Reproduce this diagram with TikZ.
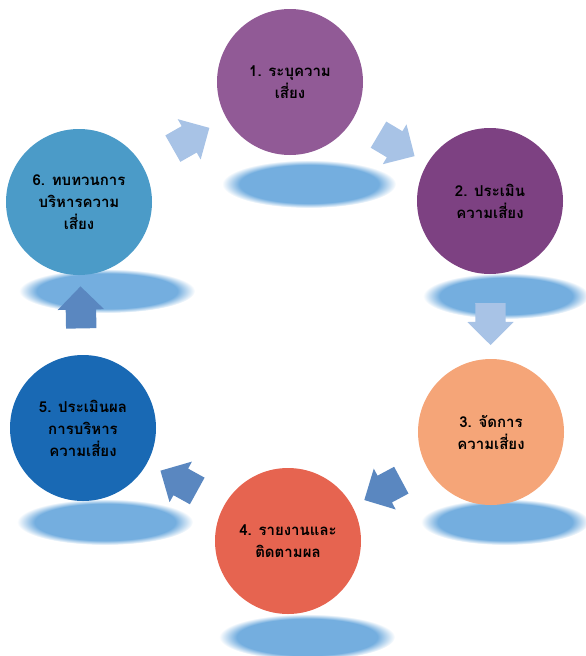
\documentclass[tikz,border=0pt]{standalone}
\usepackage{fontspec}
\newfontfamily\thaifont[Script=Thai]{Loma}
\usetikzlibrary{shapes.geometric,shapes.arrows}

\definecolor{stageone}{HTML}{915A96}
\definecolor{stagetwo}{HTML}{7D4182}
\definecolor{stagethree}{HTML}{F5A578}
\definecolor{stagefour}{HTML}{E66450}
\definecolor{stagefive}{HTML}{1969B4}
\definecolor{stagesix}{HTML}{4B9BC8}
\definecolor{blobblue}{HTML}{74AEDF}
\definecolor{arrowlight}{HTML}{A8C3E6}
\definecolor{arrowdark}{HTML}{5A87C0}
\pgfdeclareradialshading{blob}{\pgfpoint{0bp}{0bp}}{color(0bp)=(blobblue); color(20bp)=(blobblue); color(25bp)=(white); color(50bp)=(white)}

\begin{document}
\begin{tikzpicture}[x=1pt, y=-1pt,
                    stage node/.style={circle, minimum size=146pt, inner sep=0pt, align=center,
                                       font=\thaifont\bfseries\fontsize{15}{22}\selectfont},
                    shadow blob/.style={ellipse, shading=blob, inner sep=0pt},
                    cycle arrow/.style={single arrow, sloped, allow upside down, inner xsep=0pt,
                                        inner ysep=15pt, single arrow head extend=8pt, minimum height=42pt}]
  \useasboundingbox (0,0) rectangle (586,656);
  % shadows under the stages
  \node[shadow blob, minimum width=174pt, minimum height=48pt] (s1) at (309,184) {};
  \node[shadow blob, minimum width=166pt, minimum height=46pt] (s2) at (506,296) {};
  \node[shadow blob, minimum width=168pt, minimum height=46pt] (s3) at (505,522) {};
  \node[shadow blob, minimum width=176pt, minimum height=46pt] (s4) at (307,637) {};
  \node[shadow blob, minimum width=176pt, minimum height=46pt] (s5) at (105,522) {};
  \node[shadow blob, minimum width=176pt, minimum height=44pt] (s6) at (107,291) {};
  % stages
  \node[stage node, fill=stageone] (1) at (290,82) {1. ระบุความ\\เสี่ยง};
  \node[stage node, fill=stagetwo] (2) at (490,201) {2. ประเมิน\\ความเสี่ยง};
  \node[stage node, fill=stagethree] (3) at (491,432) {3. จัดการ\\ความเสี่ยง};
  \node[stage node, fill=stagefour] (4) at (288,541) {4. รายงานและ\\ติดตามผล};
  \node[stage node, fill=stagefive] (5) at (83,428) {5. ประเมินผล\\การบริหาร\\ความเสี่ยง};
  \node[stage node, fill=stagesix] (6) at (79,202) {6. ทบทวนการ\\บริหารความ\\เสี่ยง};
  % arrows of the cycle
  \path (6) -- node[cycle arrow, fill=arrowlight] (a61) {} (1);
  \path (1) -- node[cycle arrow, fill=arrowlight] (a12) {} (2);
  \path (2) -- node[cycle arrow, fill=arrowlight] (a23) {} (3);
  \path (3) -- node[cycle arrow, fill=arrowdark] (a34) {} (4);
  \path (4) -- node[cycle arrow, fill=arrowdark] (a45) {} (5);
  \path (5) -- node[cycle arrow, fill=arrowdark] (a56) {} (6);
\end{tikzpicture}
\end{document}
